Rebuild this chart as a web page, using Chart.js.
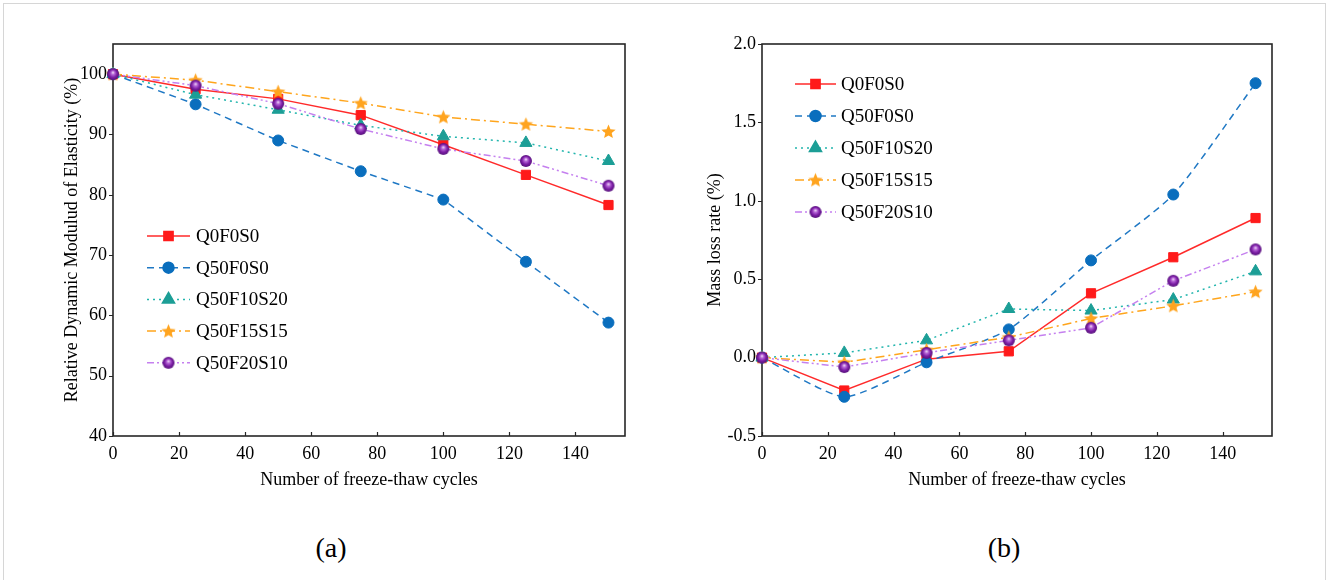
<!DOCTYPE html>
<html>
<head>
<meta charset="utf-8">
<title>Freeze-thaw results</title>
<script src="https://cdn.jsdelivr.net/npm/chart.js@4.4.0/dist/chart.umd.min.js"></script>
<style>
    html, body { margin: 0; padding: 0; background: #fff; }
    #frame { position: absolute; left: 3px; top: 3px; width: 1321px; height: 600px; border: 1px solid #d6d6d6; }
    .wrap { position: absolute; top: 0; width: 664px; height: 510px; }
    .cap { position: absolute; top: 532px; font: 28px "Liberation Serif", serif; color: #000; transform: translateX(-50%); }
</style>
</head>
<body>
<div id="frame"></div>
<div class="wrap" style="left:0"><canvas id="chartA"></canvas></div>
<div class="wrap" style="left:664px"><canvas id="chartB"></canvas></div>
<div class="cap" style="left:331px">(a)</div>
<div class="cap" style="left:1004px">(b)</div>

<script>
// --- data ---
const cycles = [0, 25, 50, 75, 100, 125, 150];
const seriesNames = ['Q0F0S0', 'Q50F0S0', 'Q50F10S20', 'Q50F15S15', 'Q50F20S10'];

// (a) relative dynamic modulus of elasticity (%)
const modulusQ0F0S0   = [100, 97.5, 95.9, 93.2, 88.3, 83.3, 78.3];
const modulusQ50F0S0  = [100, 95.0, 89.0, 83.9, 79.2, 68.9, 58.8];
const modulusQ50F10S20 = [100, 96.6, 94.1, 91.5, 89.7, 88.6, 85.6];
const modulusQ50F15S15 = [100, 99.0, 97.1, 95.2, 92.9, 91.7, 90.5];
const modulusQ50F20S10 = [100, 98.1, 95.1, 90.9, 87.6, 85.6, 81.5];

// (b) mass loss rate (%)
const lossQ0F0S0   = [0, -0.21, -0.01, 0.04, 0.41, 0.64, 0.89];
const lossQ50F0S0  = [0, -0.25, -0.03, 0.18, 0.62, 1.04, 1.75];
const lossQ50F10S20 = [0, 0.03, 0.11, 0.31, 0.30, 0.37, 0.55];
const lossQ50F15S15 = [0, -0.03, 0.05, 0.13, 0.25, 0.33, 0.42];
const lossQ50F20S10 = [0, -0.06, 0.03, 0.11, 0.19, 0.49, 0.69];

const SERIF = '"Liberation Serif", "Times New Roman", serif';

// --- marker images (filled star, shaded sphere) ---
function makeStar(color, r) {
    const c = document.createElement('canvas');
    const s = Math.ceil(r * 2) + 2;
    c.width = c.height = s;
    const g = c.getContext('2d');
    g.translate(s / 2, s / 2 + 0.5);
    g.beginPath();
    for (let i = 0; i < 10; i++) {
        const rr = i % 2 ? r * 0.45 : r;
        const a = -Math.PI / 2 + i * Math.PI / 5;
        g.lineTo(rr * Math.cos(a), rr * Math.sin(a));
    }
    g.closePath();
    g.fillStyle = color;
    g.fill();
    return c;
}

function makeSphere(r) {
    const c = document.createElement('canvas');
    const s = Math.ceil(r * 2) + 2;
    c.width = c.height = s;
    const g = c.getContext('2d');
    const m = s / 2;
    const grad = g.createRadialGradient(m, m - r * 0.3, 0, m, m, r);
    grad.addColorStop(0, '#f6e8fb');
    grad.addColorStop(0.3, '#b565d6');
    grad.addColorStop(0.65, '#7d1fa6');
    grad.addColorStop(1, '#55107a');
    g.beginPath();
    g.arc(m, m, r, 0, Math.PI * 2);
    g.fillStyle = grad;
    g.fill();
    return c;
}

const starImg = makeStar('#ffa41f', 7.5);
const sphereImg = makeSphere(6);

const seriesStyles = [
    { borderColor: '#ff2a2a', borderDash: [], pointStyle: 'rect', pointRadius: 6.5, pointBackgroundColor: '#ff1a1a', pointBorderColor: '#ff1a1a' },
    { borderColor: '#1f78c4', borderDash: [7, 5], pointStyle: 'circle', pointRadius: 5.5, pointBackgroundColor: '#0a6ebd', pointBorderColor: '#0a6ebd' },
    { borderColor: '#22b5ad', borderDash: [2, 4], pointStyle: 'triangle', pointRadius: 7, pointBackgroundColor: '#1c9e96', pointBorderColor: '#1c9e96' },
    { borderColor: '#ffa51c', borderDash: [9, 4, 2, 4], pointStyle: starImg, pointRadius: 7, pointBackgroundColor: '#ffa41f', pointBorderColor: '#ffa41f' },
    { borderColor: '#c580ef', borderDash: [7, 3, 2, 3, 2, 3], pointStyle: sphereImg, pointRadius: 6, pointBackgroundColor: '#7d1fa6', pointBorderColor: '#7d1fa6' }
];

function buildDatasets(valueLists, extra) {
    return valueLists.map((vals, i) => Object.assign({
        label: seriesNames[i],
        data: cycles.map((c, j) => ({ x: c, y: vals[j] })),
        borderWidth: 1.5,
        pointBorderWidth: 1,
        tension: 0,
        clip: false,
        order: seriesNames.length - i
    }, seriesStyles[i], extra ? extra[i] : {}));
}

// --- plugins: box frame with ticks, legend inside the plot ---
const frameTicks = {
    id: 'frameTicks',
    beforeDatasetsDraw(chart) {
        const { ctx, chartArea: a, scales } = chart;
        ctx.save();
        ctx.strokeStyle = '#262626';
        ctx.lineWidth = 1.6;
        ctx.strokeRect(a.left, a.top, a.right - a.left, a.bottom - a.top);
        ctx.lineWidth = 1.2;
        ctx.beginPath();
        scales.x.ticks.forEach(t => {
            const px = Math.round(scales.x.getPixelForValue(t.value)) + 0.5;
            ctx.moveTo(px, a.bottom);
            ctx.lineTo(px, a.bottom - 4);
        });
        scales.y.ticks.forEach(t => {
            const py = Math.round(scales.y.getPixelForValue(t.value)) + 0.5;
            ctx.moveTo(a.left, py);
            ctx.lineTo(a.left - 4, py);
        });
        ctx.stroke();
        ctx.restore();
    }
};

const inLegend = {
    id: 'inLegend',
    afterDraw(chart, args, opts) {
        const ctx = chart.ctx;
        chart.data.datasets.forEach((ds, i) => {
            const y = opts.y + i * opts.gap;
            ctx.save();
            ctx.strokeStyle = ds.borderColor;
            ctx.lineWidth = ds.borderWidth;
            ctx.setLineDash(ds.borderDash || []);
            ctx.beginPath();
            ctx.moveTo(opts.x, y);
            ctx.lineTo(opts.x + opts.lineLen, y);
            ctx.stroke();
            ctx.setLineDash([]);
            ctx.fillStyle = ds.pointBackgroundColor;
            ctx.strokeStyle = ds.pointBorderColor;
            Chart.helpers.drawPoint(ctx, { pointStyle: ds.pointStyle, radius: ds.pointRadius, rotation: 0, borderWidth: 1 }, opts.x + opts.lineLen / 2, y);
            ctx.fillStyle = '#000';
            ctx.font = '19px ' + SERIF;
            ctx.textBaseline = 'middle';
            ctx.fillText(ds.label, opts.x + opts.lineLen + opts.textGap, y + 1);
            ctx.restore();
        });
    }
};

function makeOptions(cfg) {
    const tickFont = { family: SERIF, size: 18 };
    const titleFont = { family: SERIF, size: 18 };
    return {
        responsive: true,
        maintainAspectRatio: false,
        animation: false,
        devicePixelRatio: 1,
        layout: { padding: cfg.padding },
        plugins: {
            legend: { display: false },
            tooltip: { enabled: false },
            inLegend: cfg.legend
        },
        scales: {
            x: {
                type: 'linear',
                min: 0,
                max: 155,
                afterBuildTicks: s => { s.ticks = s.ticks.filter(t => t.value % 20 === 0); },
                afterFit: s => { s.height = cfg.xHeight; },
                grid: { display: false, drawTicks: false },
                border: { display: false },
                ticks: { stepSize: 20, padding: 7, color: '#000', font: tickFont, maxRotation: 0 },
                title: { display: true, text: 'Number of freeze-thaw cycles', color: '#000', font: titleFont, padding: { top: 0, bottom: 19 } }
            },
            y: {
                min: cfg.yMin,
                max: cfg.yMax,
                afterBuildTicks: s => { s.ticks = s.ticks.filter(t => Math.abs(t.value / cfg.yStep - Math.round(t.value / cfg.yStep)) < 1e-6); },
                afterFit: s => { s.width = cfg.yWidth; },
                grid: { display: false, drawTicks: false },
                border: { display: false },
                ticks: { stepSize: cfg.yStep, padding: 6, color: '#000', font: tickFont, callback: cfg.yFormat },
                title: { display: true, text: cfg.yTitle, color: '#000', font: titleFont, padding: { top: cfg.yTitlePad, bottom: 0 } }
            }
        }
    };
}

document.addEventListener('DOMContentLoaded', () => {
    new Chart(document.getElementById('chartA'), {
        type: 'line',
        data: { datasets: buildDatasets([modulusQ0F0S0, modulusQ50F0S0, modulusQ50F10S20, modulusQ50F15S15, modulusQ50F20S10]) },
        options: makeOptions({
            padding: { top: 44, right: 39, left: 0, bottom: 0 },
            xHeight: 74,
            yWidth: 113,
            yMin: 40, yMax: 105, yStep: 10,
            yFormat: v => String(v),
            yTitle: 'Relative Dynamic Modulud of Elasticity (%)',
            yTitlePad: 61,
            legend: { x: 147, y: 236, gap: 31.7, lineLen: 43, textGap: 6 }
        }),
        plugins: [frameTicks, inLegend]
    });

    new Chart(document.getElementById('chartB'), {
        type: 'line',
        data: { datasets: buildDatasets([lossQ0F0S0, lossQ50F0S0, lossQ50F10S20, lossQ50F15S15, lossQ50F20S10],
                                        [{}, { tension: 0.2 }, {}, {}, {}]) },
        options: makeOptions({
            padding: { top: 44, right: 56, left: 0, bottom: 0 },
            xHeight: 74,
            yWidth: 98,
            yMin: -0.5, yMax: 2.0, yStep: 0.5,
            yFormat: v => v.toFixed(1),
            yTitle: 'Mass loss rate (%)',
            yTitlePad: 40,
            legend: { x: 131, y: 84, gap: 32, lineLen: 41, textGap: 5 }
        }),
        plugins: [frameTicks, inLegend]
    });
});
</script>
</body>
</html>
